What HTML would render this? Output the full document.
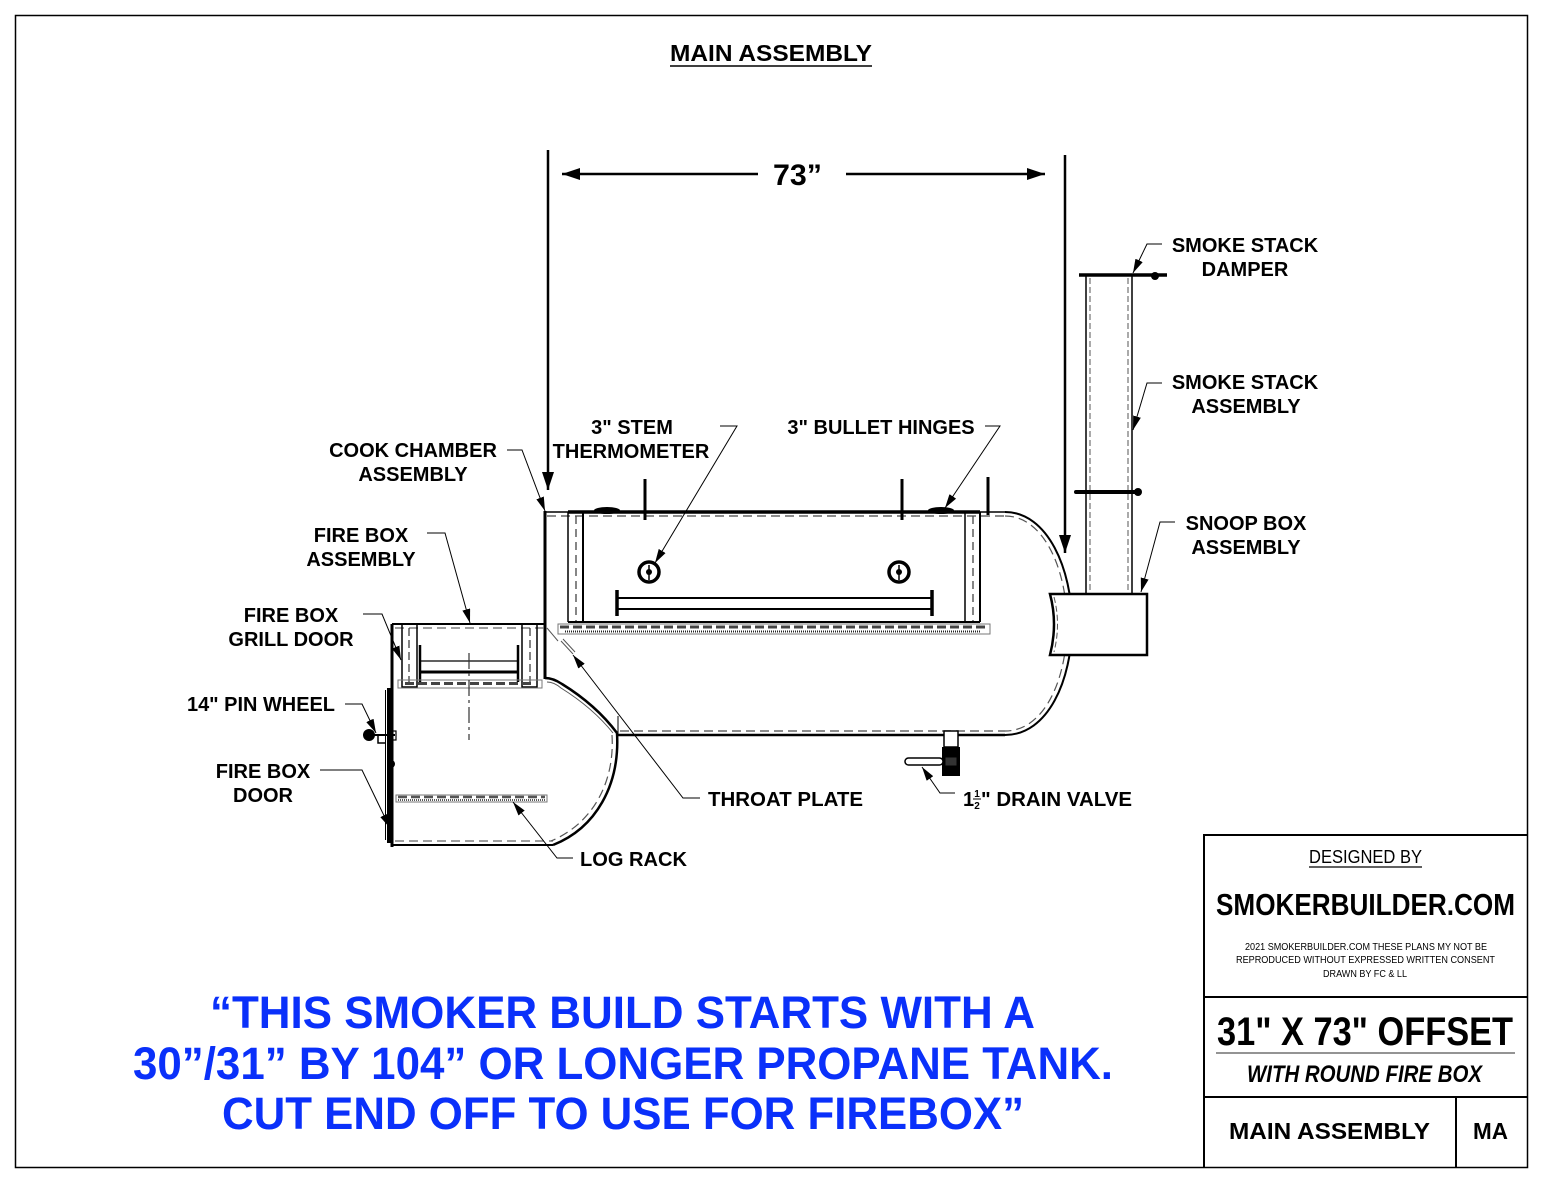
<!DOCTYPE html>
<html>
<head>
<meta charset="utf-8">
<style>
html,body{margin:0;padding:0;background:#fff;}
svg{display:block;}
text{font-family:"Liberation Sans",Arial,sans-serif;}
.lb{font-weight:bold;font-size:20px;fill:#000;}
</style>
</head>
<body>
<svg width="1546" height="1186" viewBox="0 0 1546 1186" xmlns="http://www.w3.org/2000/svg">
<defs>
<marker id="la" viewBox="0 0 14 8" refX="14" refY="4" markerWidth="14" markerHeight="8" orient="auto" markerUnits="userSpaceOnUse"><path d="M0,0 L14,4 L0,8 z" fill="#000"/></marker>
<marker id="da" viewBox="0 0 18 12" refX="18" refY="6" markerWidth="18" markerHeight="12" orient="auto" markerUnits="userSpaceOnUse"><path d="M0,0 L18,6 L0,12 z" fill="#000"/></marker>
</defs>
<rect width="1546" height="1186" fill="#fff"/>
<rect x="15.5" y="15.5" width="1512" height="1152" fill="none" stroke="#000" stroke-width="1.5"/>

<text x="771" y="61" text-anchor="middle" font-weight="bold" font-size="23" textLength="202" lengthAdjust="spacingAndGlyphs">MAIN ASSEMBLY</text>
<line x1="670" y1="66" x2="872" y2="66" stroke="#000" stroke-width="1.5"/>

<line x1="548" y1="150" x2="548" y2="490" stroke="#000" stroke-width="2.5" marker-end="url(#da)"/>
<line x1="1065" y1="155" x2="1065" y2="553" stroke="#000" stroke-width="2.5" marker-end="url(#da)"/>
<line x1="758" y1="174" x2="562" y2="174" stroke="#000" stroke-width="2.5" marker-end="url(#da)"/>
<line x1="846" y1="174" x2="1045" y2="174" stroke="#000" stroke-width="2.5" marker-end="url(#da)"/>
<text x="773" y="185" font-weight="bold" font-size="30" textLength="49" lengthAdjust="spacingAndGlyphs">73”</text>

<g fill="none" stroke="#000">
  <line x1="545" y1="512" x2="1005" y2="512" stroke-width="1.5"/>
  <line x1="547" y1="516" x2="1005" y2="516" stroke="#666" stroke-width="1.5" stroke-dasharray="9,5"/>
  <path d="M1005,512 C1048,512 1072,570 1072,624 C1072,680 1048,735 1005,735" stroke-width="2"/>
  <path d="M1005,516 C1045,516 1067,572 1067,624 C1067,678 1045,731 1005,731" stroke="#555" stroke-width="1.2" stroke-dasharray="9,5"/>
  <line x1="617" y1="735" x2="1005" y2="735" stroke-width="2.5"/>
  <line x1="620" y1="731" x2="1005" y2="731" stroke="#666" stroke-width="1.5" stroke-dasharray="9,5"/>
  <line x1="545" y1="511" x2="545" y2="679" stroke-width="3"/>
  <path d="M545,678 Q553,678 562,684 Q596,705 617,733" stroke-width="2.5"/>
  <path d="M547,682 Q554,682 561,688 Q593,708 613,733" stroke="#555" stroke-width="1"/>
  <line x1="618" y1="716" x2="618" y2="735" stroke-width="1"/>
  <line x1="568" y1="512" x2="980" y2="512" stroke-width="3.5"/>
  <line x1="568" y1="512" x2="568" y2="622" stroke-width="1.5"/>
  <line x1="583" y1="512" x2="583" y2="622" stroke-width="2"/>
  <line x1="576" y1="516" x2="576" y2="622" stroke="#444" stroke-width="1.3" stroke-dasharray="8,5"/>
  <line x1="980" y1="512" x2="980" y2="622" stroke-width="2"/>
  <line x1="965" y1="512" x2="965" y2="622" stroke-width="1.5"/>
  <line x1="973" y1="516" x2="973" y2="622" stroke="#444" stroke-width="1.3" stroke-dasharray="8,5"/>
  <line x1="568" y1="622" x2="980" y2="622" stroke-width="2"/>
  <rect x="558" y="624" width="432" height="10" stroke="#777" stroke-width="1"/>
  <line x1="560" y1="627" x2="988" y2="627" stroke="#444" stroke-width="3" stroke-dasharray="9,4"/>
  <line x1="565" y1="631.5" x2="980" y2="631.5" stroke="#222" stroke-width="2" stroke-dasharray="1,1"/>
  <line x1="645" y1="479" x2="645" y2="520" stroke-width="3"/>
  <line x1="902" y1="479" x2="902" y2="520" stroke-width="3"/>
  <line x1="988" y1="477" x2="988" y2="515" stroke-width="3"/>
  <line x1="617" y1="598" x2="932" y2="598" stroke-width="2"/>
  <line x1="617" y1="609" x2="932" y2="609" stroke-width="2"/>
  <line x1="617" y1="590" x2="617" y2="616" stroke-width="3.5"/>
  <line x1="932" y1="590" x2="932" y2="616" stroke-width="3.5"/>
  <circle cx="649" cy="572" r="10" stroke-width="3.5"/>
  <circle cx="899" cy="572" r="10" stroke-width="3.5"/>
  <line x1="649" y1="565" x2="649" y2="580" stroke-width="1.5"/>
  <line x1="899" y1="565" x2="899" y2="580" stroke-width="1.5"/>
</g>
<circle cx="649" cy="572" r="3" fill="#000"/>
<circle cx="899" cy="572" r="3" fill="#000"/>
<ellipse cx="607" cy="510.5" rx="13" ry="3.5" fill="#000"/>
<ellipse cx="941" cy="510.5" rx="13" ry="3.5" fill="#000"/>
<g stroke="#555" fill="none">
  <line x1="547" y1="628" x2="558" y2="641" stroke-width="1"/>
  <line x1="561" y1="641" x2="573" y2="654" stroke-width="1"/>
  <line x1="563" y1="639" x2="575" y2="652" stroke-width="1"/>
</g>

<g fill="none" stroke="#000">
  <line x1="392" y1="624" x2="545" y2="624" stroke-width="2"/>
  <line x1="395" y1="628" x2="545" y2="628" stroke="#666" stroke-width="1.2" stroke-dasharray="9,5"/>
  <line x1="392" y1="624" x2="392" y2="847" stroke-width="3"/>
  <line x1="389" y1="688" x2="389" y2="843" stroke-width="4"/>
  <line x1="385.5" y1="690" x2="385.5" y2="840" stroke-width="1"/>
  <line x1="392" y1="845" x2="553" y2="845" stroke-width="2"/>
  <line x1="395" y1="841" x2="553" y2="841" stroke="#666" stroke-width="1.2" stroke-dasharray="9,5"/>
  <path d="M617,733 C620,785 596,828 553,845" stroke-width="2.5"/>
  <path d="M612,735 C615,783 592,824 551,841" stroke="#555" stroke-width="1.2" stroke-dasharray="9,5"/>
  <rect x="402" y="624" width="15" height="63" stroke-width="1.5"/>
  <rect x="522" y="624" width="15" height="63" stroke-width="1.5"/>
  <line x1="409" y1="628" x2="409" y2="686" stroke="#333" stroke-width="1.2" stroke-dasharray="8,4"/>
  <line x1="530" y1="628" x2="530" y2="686" stroke="#333" stroke-width="1.2" stroke-dasharray="8,4"/>
  <line x1="420" y1="645" x2="420" y2="682" stroke-width="2.5"/>
  <line x1="518" y1="645" x2="518" y2="682" stroke-width="2.5"/>
  <line x1="420" y1="661" x2="518" y2="661" stroke-width="1.2"/>
  <line x1="420" y1="672" x2="518" y2="672" stroke-width="3"/>
  <rect x="398" y="680" width="144" height="8" stroke="#777" stroke-width="1"/>
  <line x1="405" y1="683.5" x2="535" y2="683.5" stroke="#444" stroke-width="3" stroke-dasharray="9,4"/>
  <line x1="469" y1="653" x2="469" y2="740" stroke="#333" stroke-width="1.2" stroke-dasharray="16,4,3,4"/>
  <rect x="396" y="795" width="151" height="7" stroke="#777" stroke-width="1"/>
  <line x1="398" y1="797" x2="545" y2="797" stroke="#555" stroke-width="2.5" stroke-dasharray="9,4"/>
  <line x1="398" y1="800" x2="545" y2="800" stroke="#222" stroke-width="1.5" stroke-dasharray="1,1"/>
  <line x1="369" y1="735" x2="395" y2="735" stroke-width="2"/>
  <path d="M378,735 L378,743 L386,743" stroke-width="1.5"/>
  <rect x="392" y="731" width="4" height="9" stroke-width="1.2"/>
</g>
<circle cx="369" cy="735" r="6" fill="#000"/>
<circle cx="391" cy="764" r="4" fill="#000"/>

<g fill="none" stroke="#000">
  <line x1="1086" y1="275" x2="1086" y2="594" stroke-width="1.5"/>
  <line x1="1132" y1="275" x2="1132" y2="594" stroke-width="1.5"/>
  <line x1="1090" y1="278" x2="1090" y2="594" stroke="#555" stroke-width="1" stroke-dasharray="6,3"/>
  <line x1="1128" y1="278" x2="1128" y2="594" stroke="#555" stroke-width="1" stroke-dasharray="6,3"/>
  <line x1="1079" y1="275" x2="1167" y2="275" stroke-width="3.5"/>
  <line x1="1076" y1="492" x2="1139" y2="492" stroke-width="4" stroke-linecap="round"/>
</g>
<circle cx="1155" cy="276" r="4" fill="#000"/>
<circle cx="1138" cy="492" r="4" fill="#000"/>
<path d="M1050,594 H1147 V655 H1050 Q1058,624 1050,594 Z" fill="#fff" stroke="#000" stroke-width="2.5"/>
<path d="M1054,597 Q1061,624 1054,652" fill="none" stroke="#555" stroke-width="1" stroke-dasharray="6,3"/>

<rect x="944" y="731" width="14" height="16" fill="#fff" stroke="#000" stroke-width="1.5"/>
<rect x="942" y="747" width="18" height="29" fill="#000"/>
<rect x="905" y="758" width="38" height="7" rx="3.5" fill="#fff" stroke="#000" stroke-width="1.5"/>
<rect x="945" y="757" width="12" height="9" fill="#333" stroke="#000" stroke-width="1"/>

<g fill="none" stroke="#000" stroke-width="1" marker-end="url(#la)">
  <polyline points="507,450 522,450 545,511"/>
  <polyline points="427,533 445,533 470,623"/>
  <polyline points="363,614 382,614 401,660"/>
  <polyline points="345,704 362,704 376,733"/>
  <polyline points="320,770 362,770 390,828"/>
  <polyline points="573,858 557,858 513,802"/>
  <polyline points="700,798 683,798 573,655"/>
  <polyline points="720,426 737,426 655,563"/>
  <polyline points="985,426 1000,426 945,508"/>
  <polyline points="1162,244 1147,244 1133,273"/>
  <polyline points="1162,383 1147,383 1133,430"/>
  <polyline points="1175,522 1160,522 1141,592"/>
  <polyline points="955,793 940,793 922,767"/>
</g>

<g class="lb" text-anchor="middle">
  <text x="632" y="434">3" STEM</text>
  <text x="631" y="458">THERMOMETER</text>
  <text x="881" y="434">3" BULLET HINGES</text>
  <text x="413" y="457">COOK CHAMBER</text>
  <text x="413" y="481">ASSEMBLY</text>
  <text x="361" y="542">FIRE BOX</text>
  <text x="361" y="566">ASSEMBLY</text>
  <text x="291" y="622">FIRE BOX</text>
  <text x="291" y="646">GRILL DOOR</text>
  <text x="263" y="778">FIRE BOX</text>
  <text x="263" y="802">DOOR</text>
  <text x="1245" y="252">SMOKE STACK</text>
  <text x="1245" y="276">DAMPER</text>
  <text x="1245" y="389">SMOKE STACK</text>
  <text x="1246" y="413">ASSEMBLY</text>
  <text x="1246" y="530">SNOOP BOX</text>
  <text x="1246" y="554">ASSEMBLY</text>
</g>
<g class="lb">
  <text x="187" y="711" textLength="148" lengthAdjust="spacingAndGlyphs">14" PIN WHEEL</text>
  <text x="708" y="806" textLength="155" lengthAdjust="spacingAndGlyphs">THROAT PLATE</text>
  <text x="580" y="866" textLength="107" lengthAdjust="spacingAndGlyphs">LOG RACK</text>
  <text x="963" y="806">1</text>
  <text x="981" y="806" textLength="151" lengthAdjust="spacingAndGlyphs">" DRAIN VALVE</text>
</g>
<text x="977" y="797" font-weight="bold" font-size="10" text-anchor="middle">1</text>
<line x1="973" y1="799" x2="981" y2="799" stroke="#000" stroke-width="1"/>
<text x="977" y="809" font-weight="bold" font-size="10" text-anchor="middle">2</text>

<g fill="#0a30fa" font-weight="bold" font-size="45">
  <text x="210" y="1028" textLength="825" lengthAdjust="spacingAndGlyphs">“THIS SMOKER BUILD STARTS WITH A</text>
  <text x="133" y="1079" textLength="980" lengthAdjust="spacingAndGlyphs">30”/31” BY 104” OR LONGER PROPANE TANK.</text>
  <text x="222" y="1129" textLength="802" lengthAdjust="spacingAndGlyphs">CUT END OFF TO USE FOR FIREBOX”</text>
</g>

<g fill="none" stroke="#000" stroke-width="2">
  <path d="M1204,1168 V835 H1528"/>
  <line x1="1204" y1="997" x2="1528" y2="997"/>
  <line x1="1204" y1="1097" x2="1528" y2="1097"/>
  <line x1="1456" y1="1097" x2="1456" y2="1168"/>
</g>
<line x1="1216" y1="1053" x2="1515" y2="1053" stroke="#555" stroke-width="1.2"/>
<text x="1309" y="863" font-size="18" textLength="113" lengthAdjust="spacingAndGlyphs">DESIGNED BY</text>
<line x1="1309" y1="867" x2="1422" y2="867" stroke="#000" stroke-width="1.2"/>
<text x="1216" y="915" font-size="31" font-weight="bold" textLength="299" lengthAdjust="spacingAndGlyphs">SMOKERBUILDER.COM</text>
<text x="1245" y="950" font-size="10" textLength="242" lengthAdjust="spacingAndGlyphs">2021 SMOKERBUILDER.COM THESE PLANS MY NOT BE</text>
<text x="1236" y="963" font-size="10" textLength="259" lengthAdjust="spacingAndGlyphs">REPRODUCED WITHOUT EXPRESSED WRITTEN CONSENT</text>
<text x="1323" y="977" font-size="10" textLength="84" lengthAdjust="spacingAndGlyphs">DRAWN BY FC &amp; LL</text>
<text x="1217" y="1045" font-size="40" font-weight="bold" textLength="296" lengthAdjust="spacingAndGlyphs">31" X 73" OFFSET</text>
<text x="1247" y="1082" font-size="24" font-weight="bold" font-style="italic" textLength="235" lengthAdjust="spacingAndGlyphs">WITH ROUND FIRE BOX</text>
<text x="1229" y="1139" font-size="23" font-weight="bold" textLength="201" lengthAdjust="spacingAndGlyphs">MAIN ASSEMBLY</text>
<text x="1473" y="1139" font-size="23" font-weight="bold" textLength="35" lengthAdjust="spacingAndGlyphs">MA</text>
</svg>
</body>
</html>
